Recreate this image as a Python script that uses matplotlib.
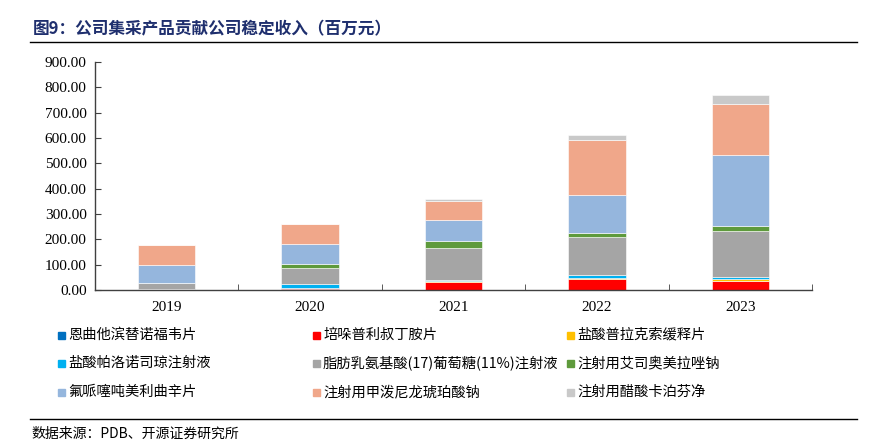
import matplotlib
matplotlib.use("Agg")
import matplotlib.pyplot as plt
from matplotlib.patches import Rectangle
from matplotlib.lines import Line2D
import numpy as np

plt.rcParams['font.family'] = ['Noto Sans CJK SC', 'DejaVu Sans']
SERIF = ['Liberation Serif', 'DejaVu Serif']

years = ['2019', '2020', '2021', '2022', '2023']
series_names = [
    '恩曲他滨替诺福韦片', '培哚普利叔丁胺片', '盐酸普拉克索缓释片',
    '盐酸帕洛诺司琼注射液', '脂肪乳氨基酸(17)葡萄糖(11%)注射液', '注射用艾司奥美拉唑钠',
    '氟哌噻吨美利曲辛片', '注射用甲泼尼龙琥珀酸钠', '注射用醋酸卡泊芬净',
]
v_entecavir = [2, 2, 0, 0, 0]
v_perindopril = [0, 5, 33, 45, 36]
v_pramipexole = [0, 0, 2, 4, 6]
v_palonosetron = [0, 16, 6, 9, 9]
v_lipid = [25, 65, 124, 150, 180]
v_esomeprazole = [0, 16, 28, 18, 21]
v_flupentixol = [71, 79, 85, 150, 280]
v_methylpred = [79, 77, 75, 217, 203]
v_caspofungin = [0, 0, 7, 20, 33]
series_values = [v_entecavir, v_perindopril, v_pramipexole, v_palonosetron, v_lipid,
                 v_esomeprazole, v_flupentixol, v_methylpred, v_caspofungin]
colors = ['#0070C0', '#FF0000', '#FFC000', '#00B0F0', '#A5A5A5',
          '#5E9A3C', '#95B6DD', '#F0A78A', '#C9C9C9']
yticks = [0, 100, 200, 300, 400, 500, 600, 700, 800, 900]

W, H = 886, 445
fig = plt.figure(figsize=(W / 100, H / 100), dpi=100)
ax = fig.add_axes([95 / W, 1 - 290 / H, (812 - 95) / W, (290 - 62) / H])

x = np.arange(len(years))
bottom = np.zeros(len(years))
for vals, c in zip(series_values, colors):
    vals = np.array(vals, dtype=float)
    ax.bar(x, vals, width=0.4, bottom=bottom, color=c, edgecolor='white', linewidth=0.4, zorder=2)
    bottom += vals

ax.set_xlim(-0.5, len(years) - 0.5)
ax.set_ylim(0, 900)
ax.set_yticks(yticks)
ax.set_yticklabels([f'{t:.2f}' for t in yticks], family=SERIF, fontsize=11)
ax.set_xticks(x)
ax.set_xticklabels(years, family=SERIF, fontsize=11)
ax.tick_params(axis='x', which='major', length=0, pad=8)
ax.set_xticks(np.arange(-0.5, len(years), 1.0), minor=True)
ax.tick_params(axis='x', which='minor', direction='in', length=4, color='#404040')
ax.tick_params(axis='y', direction='in', length=4, color='#404040', pad=6)
for s in ['top', 'right']:
    ax.spines[s].set_visible(False)
for s in ['left', 'bottom']:
    ax.spines[s].set_color('#404040')
    ax.spines[s].set_linewidth(1.0)

# Title
fig.text(33 / W, 1 - 29 / H, '图9：公司集采产品贡献公司稳定收入（百万元）', fontsize=12,
         fontweight='bold', color='#1F2F6E', va='center', ha='left')
fig.add_artist(Line2D([30 / W, 857 / W], [1 - 42 / H, 1 - 42 / H], color='black', linewidth=1.0))

# Legend
col_x = [58, 313, 567]
row_y = [335, 363, 392]
for i, (name, c) in enumerate(zip(series_names, colors)):
    cx = col_x[i % 3]
    cy = row_y[i // 3]
    sq = 7
    fig.add_artist(Rectangle((cx / W, 1 - (cy + sq / 2) / H), sq / W, sq / H,
                             transform=fig.transFigure, color=c))
    fig.text((cx + 10) / W, 1 - cy / H, name, fontsize=10.3, va='center', ha='left', color='black')

fig.add_artist(Line2D([30 / W, 857 / W], [1 - 419 / H, 1 - 419 / H], color='black', linewidth=1.0))
fig.text(31 / W, 1 - 434 / H, '数据来源：PDB、开源证券研究所', fontsize=10, va='center', ha='left')

fig.savefig('out.png', dpi=100)
